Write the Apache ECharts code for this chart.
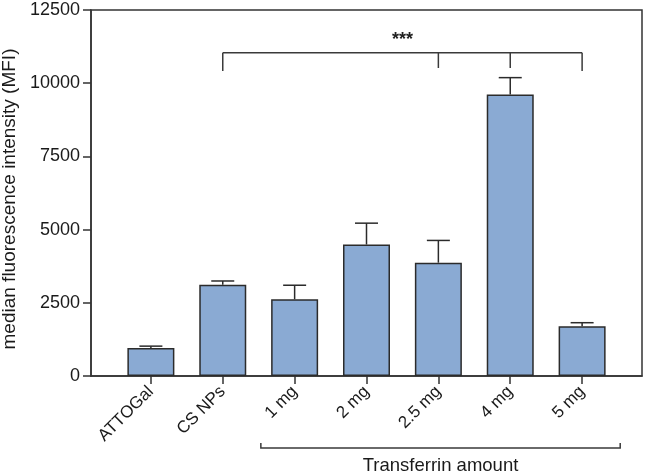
<!DOCTYPE html>
<html>
<head>
<meta charset="utf-8">
<script src="https://cdn.jsdelivr.net/npm/echarts@6/dist/echarts.min.js"></script>
<style>html,body{margin:0;padding:0;background:#fff}#c{width:645px;height:476px}</style>
</head>
<body>
<div id="c"></div>
<script>
var categories = ['ATTOGal', 'CS NPs', '1 mg', '2 mg', '2.5 mg', '4 mg', '5 mg'];
var values = [960, 3120, 2620, 4490, 3870, 9610, 1700];
var errors = [60, 125, 480, 730, 760, 580, 120];
var yTicks = [0, 2500, 5000, 7500, 10000, 12500];
var sigGroups = [1, 4, 5, 6];   // category indices joined by the *** bracket
var sigLabel = '***';
var groupRange = [2, 6];        // Transferrin amount groups
var groupLabel = 'Transferrin amount';
var yTitle = 'median fluorescence intensity (MFI)';

var idx = categories.map(function (c, i) { return i; });
var barData = values.map(function (v, i) { return [i, v]; });
var errData = values.map(function (v, i) { return [i, v, errors[i]]; });

var AX = '#333333';
var chart = echarts.init(document.getElementById('c'), null, { renderer: 'canvas' });
var font = 'Liberation Sans, Arial, Helvetica, sans-serif';

chart.setOption({
  animation: false,
  grid: { left: 91, right: 3, top: 10, bottom: 100, containLabel: false, outerBoundsMode: 'none',
    show: true, borderColor: AX, borderWidth: 1.5, backgroundColor: 'transparent' },
  xAxis: {
    type: 'value', min: -0.8333, max: 6.8333,
    splitLine: { show: false },
    axisLine: { show: true, onZero: false, lineStyle: { color: AX, width: 1.5 } },
    axisTick: { show: true, customValues: idx, length: 8, lineStyle: { color: AX, width: 1.5 } },
    axisLabel: { customValues: idx, rotate: 45, margin: 13, fontSize: 17, color: '#1a1a1a', fontFamily: font,
      formatter: function (v) { return categories[Math.round(v)]; } }
  },
  yAxis: {
    type: 'value', min: yTicks[0], max: yTicks[yTicks.length - 1], interval: 2500,
    name: yTitle, nameLocation: 'middle', nameGap: 68,
    nameTextStyle: { fontSize: 19, color: '#1a1a1a', fontFamily: font, padding: [0, 12, 0, 0] },
    splitLine: { show: false },
    axisLine: { show: true, onZero: false, lineStyle: { color: AX, width: 1.5 } },
    axisTick: { show: true, length: 8, lineStyle: { color: AX, width: 1.5 } },
    axisLabel: { customValues: yTicks, fontSize: 18, color: '#1a1a1a', margin: 11, fontFamily: font,
      formatter: function (v) { return String(v); } }
  },
  series: [
    {
      type: 'bar', data: barData, barWidth: 47,
      itemStyle: { color: '#8aaad3', borderColor: '#2b2b2b', borderWidth: 1.5 }
    },
    {
      type: 'custom', data: errData, clip: false, z: 3,
      renderItem: function (params, api) {
        var x = api.value(0), v = api.value(1), e = api.value(2);
        var p0 = api.coord([x, v]);
        var p1 = api.coord([x, v + e]);
        return { type: 'group', children: [
          { type: 'line', shape: { x1: p0[0], y1: p0[1], x2: p1[0], y2: p1[1] }, style: { stroke: '#2b2b2b', lineWidth: 1.5 } },
          { type: 'line', shape: { x1: p1[0] - 11.5, y1: p1[1], x2: p1[0] + 11.5, y2: p1[1] }, style: { stroke: '#2b2b2b', lineWidth: 1.5 } }
        ] };
      }
    },
    {
      type: 'custom', data: [[0]], clip: false, silent: true,
      renderItem: function (params, api) {
        var yTop = api.coord([0, 11040])[1];
        var children = [];
        var xs = sigGroups.map(function (g) { return api.coord([g, 0])[0]; });
        children.push({ type: 'line', shape: { x1: xs[0], y1: yTop, x2: xs[xs.length - 1], y2: yTop }, style: { stroke: '#3a3a3a', lineWidth: 1.5 } });
        sigGroups.forEach(function (g, k) {
          var endDrop = (k === 0 || k === sigGroups.length - 1) ? 10420 : 10520;
          var yb = api.coord([0, endDrop])[1];
          children.push({ type: 'line', shape: { x1: xs[k], y1: yTop, x2: xs[k], y2: yb }, style: { stroke: '#3a3a3a', lineWidth: 1.5 } });
        });
        children.push({ type: 'text', x: api.coord([3.5, 0])[0], y: yTop - 4, style: { text: sigLabel, fontSize: 18, fontWeight: 'bold', fill: '#222', fontFamily: font, align: 'center', verticalAlign: 'bottom' } });
        // group bracket below the axis
        var y0 = api.coord([0, 0])[1];
        var gx1 = api.coord([groupRange[0] - 0.47, 0])[0];
        var gx2 = api.coord([groupRange[1] + 0.53, 0])[0];
        var by = y0 + 72;
        children.push({ type: 'polyline', shape: { points: [[gx1, by - 5], [gx1, by], [gx2, by], [gx2, by - 5]] }, style: { stroke: '#3a3a3a', lineWidth: 1.5, fill: null } });
        children.push({ type: 'text', x: (gx1 + gx2) / 2, y: by + 18, style: { text: groupLabel, fontSize: 18.5, fill: '#1a1a1a', fontFamily: font, align: 'center', verticalAlign: 'middle' } });
        return { type: 'group', children: children };
      }
    }
  ]
});
</script>
</body>
</html>
